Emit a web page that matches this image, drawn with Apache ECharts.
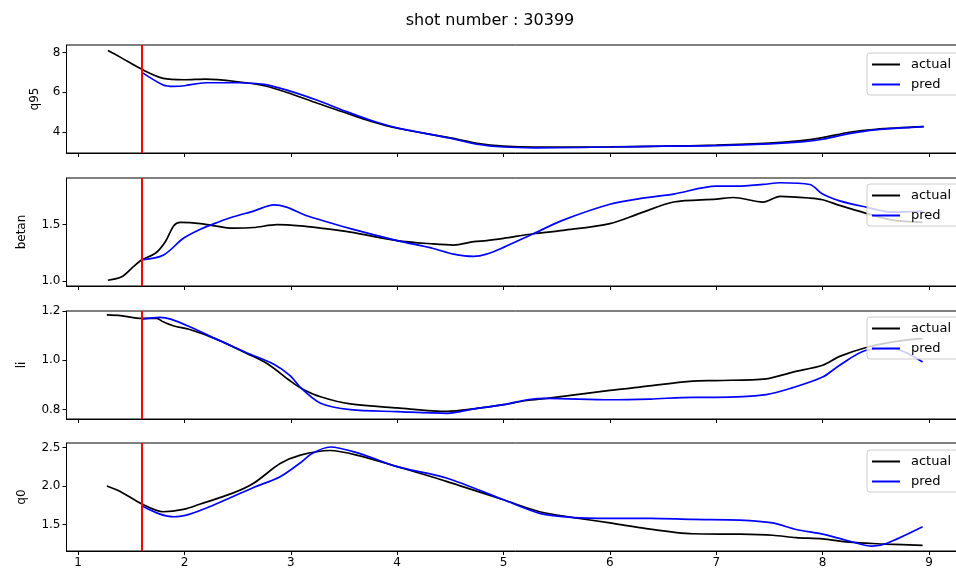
<!DOCTYPE html>
<html>
<head>
<meta charset="utf-8">
<script src="https://cdn.jsdelivr.net/npm/echarts@6/dist/echarts.min.js"></script>
<style>
  html, body { margin: 0; padding: 0; background: #fff; overflow: hidden; }
  #chart { width: 980px; height: 570px; }
</style>
</head>
<body>
<div id="chart"></div>
<script>
// x ticks shared by all four panels
const xTicks = [1, 2, 3, 4, 5, 6, 7, 8, 9];
const cutX = 1.6;

// q95
const q95Actual = [[1.28,8.1],[1.4,7.75],[1.6,7.15],[1.8,6.7],[2.0,6.63],[2.2,6.66],[2.5,6.53],[2.75,6.33],[3.0,5.93],[3.25,5.45],[3.5,5.0],[3.75,4.55],[4.0,4.2],[4.5,3.72],[4.75,3.45],[5.0,3.3],[5.3,3.25],[6.0,3.27],[6.5,3.3],[7.0,3.35],[7.5,3.45],[7.8,3.58],[8.0,3.73],[8.25,4.0],[8.5,4.15],[8.95,4.28]];
const q95Pred = [[1.6,7.0],[1.8,6.37],[1.9,6.3],[2.0,6.33],[2.2,6.48],[2.5,6.48],[2.75,6.4],[3.0,6.05],[3.25,5.6],[3.5,5.08],[3.75,4.6],[4.0,4.22],[4.5,3.7],[4.75,3.4],[5.0,3.26],[5.3,3.22],[6.0,3.26],[6.5,3.3],[7.0,3.33],[7.5,3.42],[7.8,3.52],[8.0,3.65],[8.25,3.93],[8.5,4.12],[8.95,4.28]];
const q95Ticks = [4, 6, 8];

// betan
const betanActual = [[1.28,1.01],[1.41,1.04],[1.52,1.13],[1.6,1.19],[1.73,1.25],[1.82,1.35],[1.9,1.49],[1.96,1.52],[2.15,1.51],[2.46,1.47],[2.65,1.475],[2.87,1.5],[3.09,1.49],[3.28,1.47],[3.56,1.435],[4.0,1.36],[4.34,1.33],[4.53,1.32],[4.72,1.35],[4.84,1.36],[5.0,1.38],[5.28,1.42],[5.56,1.45],[6.0,1.51],[6.28,1.6],[6.6,1.7],[7.0,1.725],[7.16,1.74],[7.44,1.7],[7.6,1.75],[7.88,1.735],[8.0,1.72],[8.16,1.67],[8.41,1.6],[8.66,1.54],[8.94,1.52]];
const betanPred = [[1.6,1.19],[1.8,1.23],[1.99,1.38],[2.15,1.46],[2.31,1.52],[2.46,1.57],[2.65,1.62],[2.84,1.675],[2.96,1.655],[3.12,1.59],[3.25,1.55],[3.56,1.465],[4.0,1.36],[4.34,1.29],[4.53,1.24],[4.72,1.22],[4.84,1.24],[5.0,1.3],[5.28,1.42],[5.56,1.54],[6.0,1.68],[6.28,1.73],[6.6,1.77],[7.0,1.84],[7.2,1.84],[7.44,1.855],[7.6,1.87],[7.88,1.855],[8.0,1.77],[8.16,1.71],[8.41,1.655],[8.66,1.61],[8.94,1.62]];
const betanTicks = [1.0, 1.5];

// li
const liActual = [[1.27,1.184],[1.4,1.181],[1.6,1.17],[1.74,1.17],[1.8,1.156],[1.9,1.139],[2.05,1.125],[2.31,1.084],[2.59,1.027],[2.78,0.986],[2.99,0.918],[3.1,0.886],[3.28,0.852],[3.56,0.823],[4.0,0.807],[4.47,0.793],[4.72,0.803],[5.0,0.82],[5.22,0.837],[5.41,0.846],[6.0,0.878],[6.28,0.891],[6.78,0.916],[7.0,0.918],[7.47,0.925],[7.72,0.952],[8.0,0.98],[8.16,1.016],[8.41,1.052],[8.66,1.075],[8.94,1.089]];
const liPred = [[1.6,1.167],[1.77,1.174],[1.87,1.167],[2.05,1.136],[2.31,1.084],[2.59,1.03],[2.84,0.984],[2.99,0.939],[3.1,0.886],[3.28,0.826],[3.56,0.8],[4.0,0.792],[4.47,0.785],[4.72,0.803],[5.0,0.82],[5.22,0.84],[5.41,0.846],[6.0,0.84],[6.38,0.843],[6.78,0.85],[7.0,0.85],[7.47,0.861],[7.72,0.889],[8.0,0.932],[8.16,0.98],[8.41,1.041],[8.66,1.048],[8.94,0.993]];
const liTicks = [0.8, 1.0, 1.2];

// q0
const q0Actual = [[1.27,2.0],[1.4,1.926],[1.6,1.765],[1.8,1.665],[1.99,1.695],[2.15,1.765],[2.46,1.91],[2.65,2.035],[2.9,2.29],[3.09,2.4],[3.37,2.46],[3.65,2.39],[4.0,2.25],[4.47,2.056],[5.0,1.82],[5.34,1.665],[5.66,1.59],[6.0,1.52],[6.28,1.46],[6.78,1.38],[7.22,1.374],[7.53,1.36],[7.75,1.33],[8.0,1.313],[8.22,1.274],[8.47,1.253],[8.6,1.244],[8.94,1.23]];
const q0Pred = [[1.6,1.74],[1.77,1.635],[1.9,1.6],[2.05,1.635],[2.27,1.75],[2.65,1.98],[2.9,2.12],[3.09,2.3],[3.2,2.42],[3.37,2.505],[3.65,2.42],[4.0,2.25],[4.47,2.1],[5.0,1.82],[5.34,1.645],[5.66,1.59],[6.0,1.58],[6.38,1.58],[6.78,1.565],[7.22,1.557],[7.53,1.52],[7.75,1.435],[8.0,1.375],[8.22,1.296],[8.47,1.218],[8.6,1.253],[8.94,1.47]];
const q0Ticks = [1.5, 2.0, 2.5];

const panels = [
  { label: 'q95', actual: q95Actual, pred: q95Pred, ticks: q95Ticks, min: 2.96, max: 8.37, digits: 0, top: 45, nameGap: 26, legendTop: 53 },
  { label: 'betan', actual: betanActual, pred: betanPred, ticks: betanTicks, min: 0.959, max: 1.912, digits: 1, top: 178, nameGap: 39, legendTop: 184 },
  { label: 'li', actual: liActual, pred: liPred, ticks: liTicks, min: 0.762, max: 1.2, digits: 1, top: 311, nameGap: 39, legendTop: 317 },
  { label: 'q0', actual: q0Actual, pred: q0Pred, ticks: q0Ticks, min: 1.156, max: 2.557, digits: 1, top: 443, nameGap: 39, legendTop: 450 }
];

const font = 'DejaVu Sans';
const grids = [], xAxes = [], yAxes = [], series = [], legends = [];

panels.forEach((p, i) => {
  grids.push({ left: 66.5, top: p.top, width: 898, height: 108, show: true, borderColor: '#000', borderWidth: 1, backgroundColor: 'transparent' });
  xAxes.push({
    type: 'value', gridIndex: i, min: 0.891, max: 9.334,
    axisLine: { show: true, onZero: false, lineStyle: { color: '#000', width: 1 } },
    axisTick: { show: true, inside: false, length: 4, customValues: xTicks, lineStyle: { color: '#000' } },
    axisLabel: { show: i === 3, customValues: xTicks, margin: 6, fontSize: 12, color: '#000', fontFamily: font },
    splitLine: { show: false }
  });
  yAxes.push({
    type: 'value', gridIndex: i, min: p.min, max: p.max,
    name: p.label, nameLocation: 'middle', nameGap: p.nameGap, nameRotate: 90,
    nameTextStyle: { fontSize: 12, color: '#000', fontFamily: font },
    axisLine: { show: true, onZero: false, lineStyle: { color: '#000', width: 1 } },
    axisTick: { show: true, inside: false, length: 4, customValues: p.ticks, lineStyle: { color: '#000' } },
    axisLabel: { customValues: p.ticks, margin: 6, fontSize: 12, color: '#000', fontFamily: font,
      formatter: v => Number(v).toFixed(p.digits) },
    splitLine: { show: false }
  });
  series.push({
    name: 'actual', type: 'line', xAxisIndex: i, yAxisIndex: i, data: p.actual,
    smooth: 0.3, showSymbol: false, symbol: 'none', color: '#000',
    lineStyle: { color: '#000', width: 1.7 }, z: 2
  });
  series.push({
    name: 'pred', type: 'line', xAxisIndex: i, yAxisIndex: i, data: p.pred,
    smooth: 0.3, showSymbol: false, symbol: 'none', color: '#0000ff',
    lineStyle: { color: '#0000ff', width: 1.7 }, z: 3,
    markLine: {
      silent: true, symbol: 'none', label: { show: false },
      lineStyle: { color: '#ff0000', width: 2, type: 'solid' },
      data: [{ xAxis: cutX }]
    }
  });
  legends.push({
    data: ['actual', 'pred'], orient: 'vertical', left: 867, top: p.legendTop,
    icon: 'rect', itemWidth: 28, itemHeight: 2, itemGap: 7,
    padding: [5, 40, 4, 5],
    textStyle: { fontSize: 13, color: '#000', fontFamily: font, padding: [0, 0, 0, 6] },
    backgroundColor: 'rgba(255,255,255,0.8)', borderColor: '#cccccc', borderWidth: 1, borderRadius: 3,
    selectedMode: false, z: 10
  });
});

const chart = echarts.init(document.getElementById('chart'));
chart.setOption({
  animation: false,
  title: { text: 'shot number : 30399', left: 'center', top: 8,
    textStyle: { fontSize: 16, fontWeight: 'normal', color: '#000', fontFamily: font } },
  legend: legends,
  grid: grids,
  xAxis: xAxes,
  yAxis: yAxes,
  series: series
});
</script>
</body>
</html>
